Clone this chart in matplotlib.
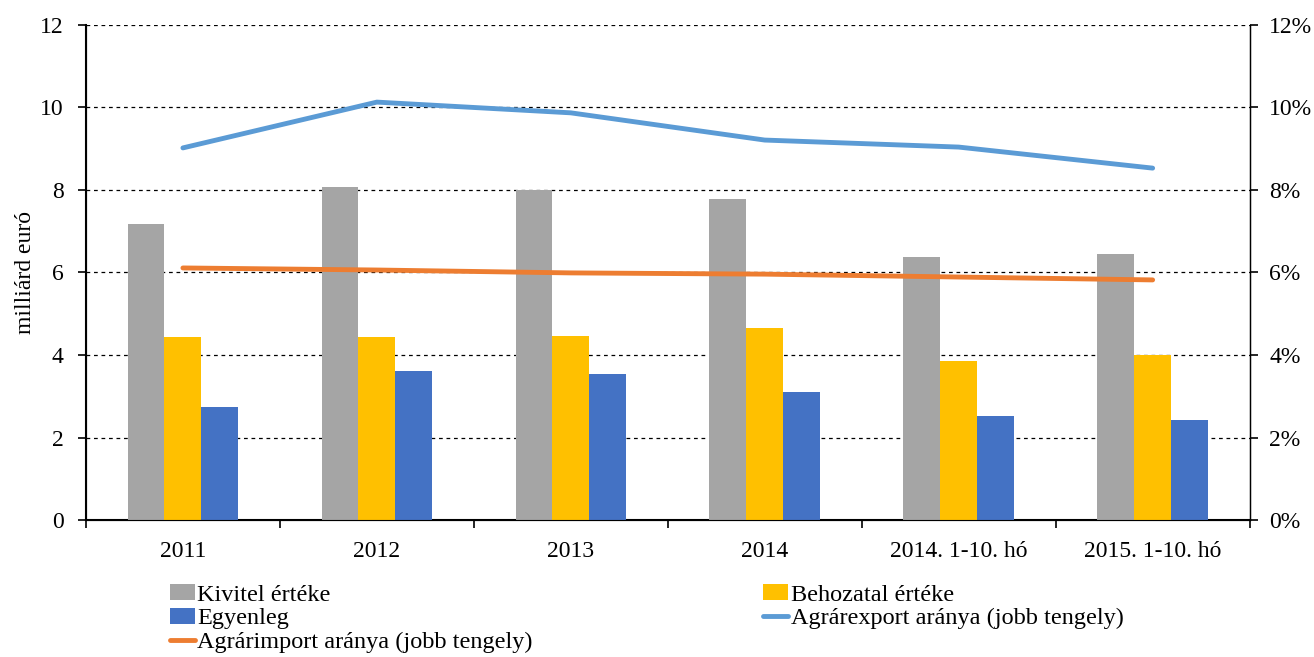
import numpy as np
import matplotlib.pyplot as plt
from matplotlib.ticker import PercentFormatter

plt.rcParams['font.family'] = ['Liberation Serif', 'DejaVu Serif']

# adatok
kategoriak = ["2011", "2012", "2013", "2014", "2014. 1-10. hó", "2015. 1-10. hó"]
kivitel = [7.18, 8.07, 8.00, 7.78, 6.38, 6.45]
behozatal = [4.44, 4.44, 4.46, 4.65, 3.85, 4.00]
egyenleg = [2.74, 3.61, 3.54, 3.10, 2.52, 2.42]
export_arany = [9.02, 10.13, 9.87, 9.21, 9.04, 8.53]
import_arany = [6.11, 6.06, 5.99, 5.96, 5.89, 5.82]

x = np.arange(len(kategoriak))
w = 0.19

fig = plt.figure(figsize=(13.14, 6.57), dpi=100)
ax = fig.add_axes([0.0654, 0.2085, 0.8856, 0.7535])
ax2 = ax.twinx()

b1 = ax.bar(x - w, kivitel, w, color='#a5a5a5', label='Kivitel értéke', zorder=3)
b2 = ax.bar(x, behozatal, w, color='#ffc000', label='Behozatal értéke', zorder=3)
b3 = ax.bar(x + w, egyenleg, w, color='#4472c4', label='Egyenleg', zorder=3)

l1, = ax2.plot(x, export_arany, color='#5b9bd5', lw=3.5, solid_capstyle='round',
               label='Agrárexport aránya (jobb tengely)')
l2, = ax2.plot(x, import_arany, color='#ed7d31', lw=3.5, solid_capstyle='round',
               label='Agrárimport aránya (jobb tengely)')

ax.set_xlim(-0.5, len(kategoriak) - 0.5)
ax.set_ylim(0, 12)
ax.set_yticks(range(0, 13, 2))
ax2.set_ylim(0, 12)
ax2.set_yticks(range(0, 13, 2))
ax2.yaxis.set_major_formatter(PercentFormatter(decimals=0))

ax.yaxis.grid(True, linestyle=(0, (3, 3)), color='black', lw=0.9, zorder=0)
ax.set_axisbelow(True)

ax.set_xticks(x)
ax.set_xticklabels(kategoriak)
ax.set_xticks(np.arange(-0.5, len(kategoriak)), minor=True)
ax.tick_params(axis='x', which='major', length=0, pad=15, labelsize=17)
ax.tick_params(axis='x', which='minor', length=6, width=1.2, direction='out')
ax.tick_params(axis='y', labelsize=17, length=6, width=1.2, pad=10)
ax2.tick_params(axis='y', labelsize=17, length=6, width=1.2, pad=8)

ax.set_ylabel('milliárd euró', fontsize=17, labelpad=3)

for a in (ax, ax2):
    a.spines['top'].set_visible(False)
ax.spines['left'].set_linewidth(1.5)
ax.spines['bottom'].set_linewidth(1.5)
ax2.spines['right'].set_linewidth(1.0)

handles = [b1, b3, l2, b2, l1]
fig.legend(handles=handles, labels=[h.get_label() for h in handles], ncol=2,
           loc='upper left', bbox_to_anchor=(0.129, 0.111), frameon=False,
           fontsize=17.5, columnspacing=9.45, handlelength=1.05, handleheight=0.62,
           handletextpad=0.1, labelspacing=0.1, borderaxespad=0, borderpad=0)

plt.savefig('out.png', dpi=100)
